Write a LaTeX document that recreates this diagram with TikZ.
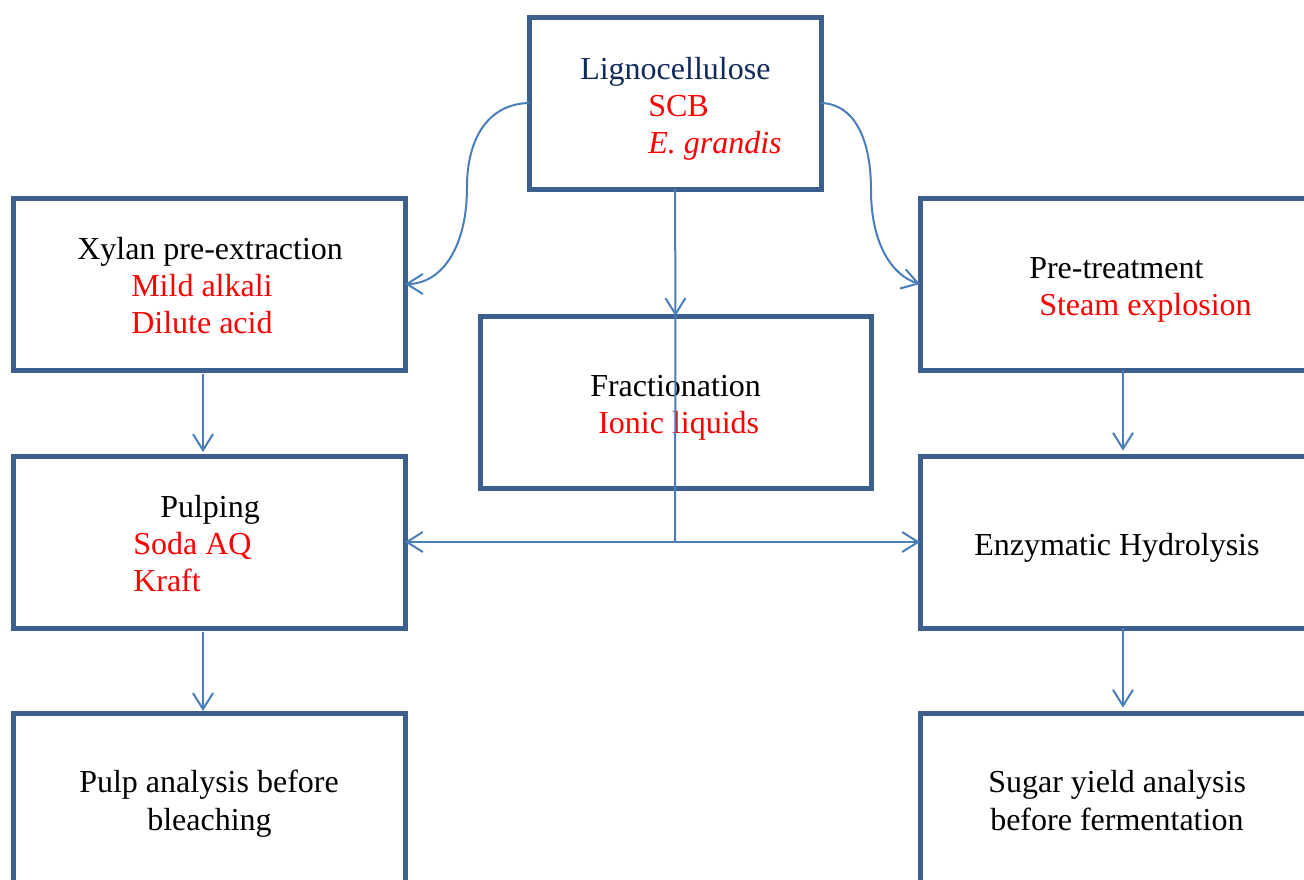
\documentclass[tikz,border=0pt]{standalone}
\usepackage{fontspec}
\setmainfont{Liberation Serif}
\usetikzlibrary{arrows.meta}
\definecolor{boxc}{HTML}{3D5F8E}
\definecolor{arrc}{HTML}{4A7EBB}
\definecolor{navy}{HTML}{112A5C}
\definecolor{redc}{HTML}{FF0000}
\tikzset{
  box/.style={draw=boxc, line width=3.75pt, inner sep=0pt, outer sep=0pt,
              minimum width=294pt, minimum height=129pt},
  conn/.style={draw=arrc, line width=1.5pt},
  arr/.style={conn, -{Straight Barb[length=12pt,width=15pt,line width=1.5pt]}},
  txt/.style={inner sep=0pt, anchor=base west, font=\fontsize{24pt}{27.75pt}\selectfont},
  blk/.style={txt, text=black},
  red/.style={txt, text=redc}
}
\begin{document}
\begin{tikzpicture}[x=0.75pt,y=-0.75pt]
\useasboundingbox (0,0) rectangle (1304,879);
\clip (0,0) rectangle (1304,879);
\fill[white] (0,0) rectangle (1304,879);
% boxes
\node[box, minimum width=219pt] (ligno) at (675,103) {};
\node[box] (xylan) at (209,284) {};
\node[box, minimum width=293.25pt] (fract) at (675.5,402) {};
\node[box] (pretreat) at (1116,284) {};
\node[box] (pulping) at (209,542) {};
\node[box] (enzym) at (1116,542) {};
\node[box] (pulpan) at (209,799) {};
\node[box] (sugar) at (1116,799) {};
% texts
\node[txt, text=navy] (t1) at (580,79) {Lignocellulose};
\node[red] (t2) at (648,116) {SCB};
\node[red] (t3) at (648,153) {\itshape E. grandis};
\node[blk] (t4) at (77,259) {Xylan pre-extraction};
\node[red] (t5) at (131,296) {Mild alkali};
\node[red] (t6) at (131,333) {Dilute acid};
\node[blk] (t7) at (590,396) {Fractionation};
\node[red] (t8) at (598,433) {Ionic liquids};
\node[blk] (t9) at (1029,278) {Pre-treatment};
\node[red] (t10) at (1039,315) {Steam explosion};
\node[blk] (t11) at (160,517) {Pulping};
\node[red] (t12) at (133,554) {Soda AQ};
\node[red] (t13) at (133,591) {Kraft};
\node[blk] (t14) at (974,555) {Enzymatic Hydrolysis};
\node[blk] (t15) at (79,792) {Pulp analysis before};
\node[blk] (t16) at (147,830) {bleaching};
\node[blk] (t17) at (988,792) {Sugar yield analysis};
\node[blk] (t18) at (990,830) {before fermentation};
% connectors
\coordinate (junc) at (ligno.south |- pulping.east);
\draw[arr] (ligno.south) -- (fract.north);
\draw[conn] (fract.north) -- (junc);
\draw[arr] (junc) -- (pulping.east);
\draw[arr] (junc) -- (enzym.west);
\draw[arr] (ligno.west) .. controls (487,104) and (467,140) .. (467,187)
   .. controls (467,250) and (440,284) .. (xylan.east);
\draw[arr] (ligno.east) .. controls (855,104) and (871,140) .. (871,190)
   .. controls (871,245) and (893,276) .. (pretreat.west);
\draw[arr] ([xshift=-4.5pt,yshift=-3pt]xylan.south) -- ([xshift=-4.5pt,yshift=3pt]pulping.north);
\draw[arr] ([xshift=-4.5pt,yshift=-3pt]pulping.south) -- ([xshift=-4.5pt,yshift=1.5pt]pulpan.north);
\draw[arr] ([xshift=5.25pt]pretreat.south) -- ([xshift=5.25pt,yshift=4pt]enzym.north);
\draw[arr] ([xshift=5.25pt]enzym.south) -- ([xshift=5.25pt,yshift=4pt]sugar.north);
\end{tikzpicture}
\end{document}
